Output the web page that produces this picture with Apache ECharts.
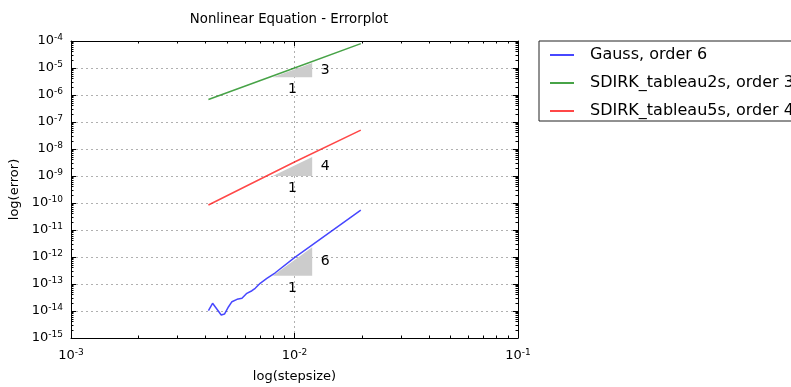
<!DOCTYPE html>
<html><head><meta charset="utf-8">
<script src="https://cdn.jsdelivr.net/npm/echarts@6/dist/echarts.min.js"></script>
<style>html,body{margin:0;padding:0;background:#fff}#c{width:791px;height:387px}</style>
</head><body><div id="c"></div>
<script>
// ---- data ----
const gaussX = [0.00412, 0.00430, 0.00450, 0.00470, 0.00486, 0.00507, 0.00525, 0.00553, 0.00582, 0.00612, 0.00645, 0.00667, 0.00702, 0.00752, 0.00820, 0.0100, 0.0198];
const gaussY = [1.03e-14, 1.93e-14, 1.16e-14, 7.1e-15, 7.7e-15, 1.44e-14, 2.21e-14, 2.71e-14, 2.95e-14, 4.52e-14, 5.64e-14, 6.92e-14, 1.06e-13, 1.62e-13, 2.61e-13, 9.5e-13, 5.46e-11];
const sdirk2X = [0.00412, 0.0100, 0.0198];
const sdirk2Y = [6.8e-7, 1.0e-5, 8.0e-5];
const sdirk5X = [0.00412, 0.0100, 0.0198];
const sdirk5Y = [8.4e-11, 3.3e-9, 5.0e-8];
const seriesNames = ['Gauss, order 6', 'SDIRK_tableau2s, order 3', 'SDIRK_tableau5s, order 4'];
// slope triangles
const triX0 = [0.008, 0.008, 0.008];
const triX1 = [0.012, 0.012, 0.012];
const triY0 = [4.5e-6, 1.0e-9, 2.0e-13];
const triY1 = [1.52e-5, 5.06e-9, 2.28e-12];
const triOrder = ['3', '4', '6'];
const triRun = ['1', '1', '1'];
// axes
const xMin = 1e-3, xMax = 1e-1;
const yMin = 1e-15, yMax = 1e-4;

const FONT = 'DejaVu Sans';
function zip(a, b) { return a.map((v, i) => [v, b[i]]); }
function expLabel(v) {
  const e = Math.round(Math.log10(v));
  return '{b|10}{s|' + e + '}';
}
const rich = {
  b: { fontFamily: FONT, fontSize: 13, color: '#000', lineHeight: 16, verticalAlign: 'middle' },
  s: { fontFamily: FONT, fontSize: 9, color: '#000', lineHeight: 8, verticalAlign: 'top' }
};
const gridLine = { show: true, lineStyle: { color: '#b0b0b0', width: 1, type: [2, 3] } };
function mkAxis(pos, isX, main) {
  const a = {
    type: 'log', logBase: 10, gridIndex: 0, position: pos,
    min: isX ? xMin : yMin, max: isX ? xMax : yMax, interval: 1,
    axisLine: { show: true, onZero: false, lineStyle: { color: '#000', width: 1 } },
    axisTick: { show: true, inside: true, length: 5, lineStyle: { color: '#000', width: 1 } },
    minorTick: { show: true, splitNumber: 9, length: 2.5, lineStyle: { color: '#000', width: 1 } },
    splitLine: main ? gridLine : { show: false },
    minorSplitLine: { show: false },
    axisLabel: main ? { show: true, formatter: expLabel, rich: rich, margin: isX ? 10 : 8, showMinLabel: true, showMaxLabel: true } : { show: false }
  };
  if (main) {
    a.name = isX ? 'log(stepsize)' : 'log(error)';
    a.nameLocation = 'middle';
    a.nameGap = isX ? 32 : 50;
    a.nameTextStyle = { fontFamily: FONT, fontSize: 13, color: '#000' };
  }
  return a;
}

const lineColors = ['rgba(0,0,255,0.72)', 'rgba(0,128,0,0.72)', 'rgba(255,0,0,0.72)'];
const lineData = [zip(gaussX, gaussY), zip(sdirk2X, sdirk2Y), zip(sdirk5X, sdirk5Y)];

const triData = triX0.map((v, i) => [v, triX1[i], triY0[i], triY1[i]]);

const chart = echarts.init(document.getElementById('c'), null, { renderer: 'canvas' });
chart.setOption({
  animation: false,
  backgroundColor: '#fff',
  title: {
    text: 'Nonlinear Equation - Errorplot', left: 284, top: 8, textAlign: 'center',
    textStyle: { fontFamily: FONT, fontSize: 13.3, fontWeight: 'normal', color: '#000' }
  },
  grid: { left: 71, top: 41, width: 447, height: 297, containLabel: false, outerBoundsMode: 'none' },
  xAxis: [mkAxis('bottom', true, true), mkAxis('top', true, false)],
  yAxis: [mkAxis('left', false, true), mkAxis('right', false, false)],
  legend: {
    orient: 'vertical', left: 539, top: 41,
    padding: [6, 80, 2, 11], itemGap: 12, itemWidth: 24, itemHeight: 2,
    icon: 'rect',
    borderColor: '#222', borderWidth: 1, borderRadius: 0,
    textStyle: { fontFamily: FONT, fontSize: 16, color: '#000', lineHeight: 14, padding: [0, 0, 0, 11] },
    data: seriesNames
  },
  series: [
    {
      type: 'custom', name: 'triangles', silent: true, z: 1,
      xAxisIndex: 0, yAxisIndex: 0,
      encode: { x: [0, 1], y: [2, 3] },
      data: triData,
      renderItem: function (params, api) {
        const i = params.dataIndex;
        const x0 = api.value(0), x1 = api.value(1), y0 = api.value(2), y1 = api.value(3);
        const p0 = api.coord([x0, y0]), p1 = api.coord([x1, y0]), p2 = api.coord([x1, y1]);
        const pm = api.coord([Math.sqrt(x0 * x1), y0]);
        const pr = api.coord([x1, Math.sqrt(y0 * y1)]);
        const ts = { fontFamily: FONT, fontSize: 14, fill: '#000', align: 'center', verticalAlign: 'middle' };
        return {
          type: 'group', children: [
            { type: 'polygon', shape: { points: [p0, p1, p2] }, style: { fill: '#cccccc' } },
            { type: 'text', x: pm[0], y: pm[1] + 12, style: Object.assign({ text: triRun[i] }, ts) },
            { type: 'text', x: pr[0] + 13, y: pr[1], style: Object.assign({ text: triOrder[i] }, ts) }
          ]
        };
      }
    }
  ].concat(seriesNames.map((n, i) => ({
    type: 'line', name: n, xAxisIndex: 0, yAxisIndex: 0, z: 3,
    symbol: 'none', showSymbol: false, smooth: false,
    data: lineData[i],
    lineStyle: { color: lineColors[i], width: 1.5 },
    itemStyle: { color: lineColors[i] }
  })))
});
</script>
</body></html>
